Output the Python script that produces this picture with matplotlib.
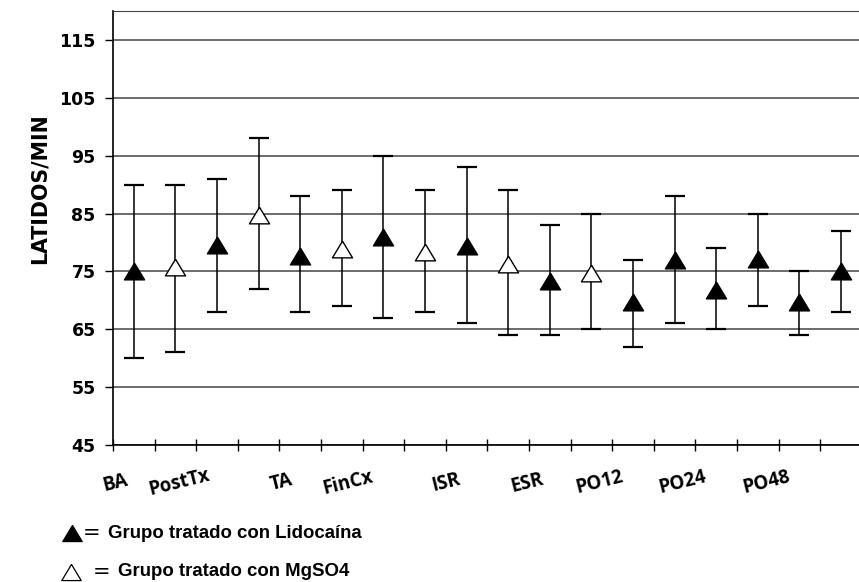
import matplotlib
matplotlib.use("Agg")
import matplotlib.pyplot as plt
from matplotlib.lines import Line2D
import numpy as np

# ---- data ----
group = ["L", "M", "L", "M", "L", "M", "L", "M", "L", "M", "L", "M",
         "L", "L", "L", "L", "L", "L"]
means = [75.0, 75.8, 79.6, 84.8, 77.7, 78.9, 80.9, 78.4, 79.4, 76.2, 73.4, 74.8,
         69.7, 77.0, 71.7, 77.2, 69.7, 75.0]
upper = [90, 90, 91, 98, 88, 89, 95, 89, 93, 89, 83, 85,
         77, 88, 79, 85, 75, 82]
lower = [60, 61, 68, 72, 68, 69, 67, 68, 66, 64, 64, 65,
         62, 66, 65, 69, 64, 68]
xlabels = ["BA", "PostTx", "TA", "FinCx", "ISR", "ESR", "PO12", "PO24", "PO48"]
xlabel_pos = [0.05, 1.6, 4.05, 5.65, 8.0, 9.95, 11.7, 13.7, 15.7]
yticks = [45, 55, 65, 75, 85, 95, 105, 115]
legend_labels = ["Grupo tratado con Lidocaína", "Grupo tratado con MgSO4"]

W, H = 859, 582
fig = plt.figure(figsize=(W / 100, H / 100), dpi=100)
ax = fig.add_axes([113 / W, 1 - 445 / H, (W - 113) / W, (445 - 11) / H])

x = np.arange(len(means)) + 0.5
means_a = np.array(means)
yerr = np.vstack([means_a - np.array(lower), np.array(upper) - means_a])

ax.errorbar(x, means_a, yerr=yerr, fmt="none", ecolor="black", elinewidth=1.1,
            capsize=7.5, capthick=1.6, zorder=3)

tri = [(0, 0.83), (-1, -0.83), (1, -0.83), (0, 0.83)]
for xi, m, g in zip(x, means_a, group):
    ax.plot([xi], [m], linestyle="none", marker=tri, markersize=14.5,
            markerfacecolor="black" if g == "L" else "white",
            markeredgecolor="black", markeredgewidth=1.0, zorder=4)

ax.set_ylim(45, 120)
ax.set_xlim(0, (W - 113) / 41.6)
ax.set_yticks(yticks)
ax.set_yticklabels([str(v) for v in yticks], fontsize=12.5, fontweight="bold",
                   family="DejaVu Sans")
ax.set_xticks(np.arange(0, 18))
ax.set_xticklabels([])
ax.yaxis.grid(True, color="#444444", linewidth=1.1)
ax.set_axisbelow(True)
ax.spines["top"].set_color("#444444")
ax.spines["right"].set_visible(False)
ax.spines["left"].set_linewidth(1.2)
ax.spines["bottom"].set_linewidth(1.2)
ax.tick_params(axis="x", direction="inout", length=9, width=1.0)
ax.tick_params(axis="y", direction="out", length=5.5, width=1.0, pad=7)

for lab, xp in zip(xlabels, xlabel_pos):
    ax.text(xp, -0.087, lab, transform=ax.get_xaxis_transform(), rotation=14,
            ha="center", va="center", fontsize=13.5, fontweight="bold",
            family="Open Sans")

fig.text(40 / W, 1 - 189 / H, "LATIDOS/MIN", rotation=90, ha="center",
         va="center", fontsize=14.8, fontweight="bold", family="DejaVu Sans")

# legend made of markers and text
rows = [(533, "black", 72, 92, 108), (572, "white", 71, 102, 118)]
for (yy, fc, mx, ex, tx), lab in zip(rows, legend_labels):
    fig.add_artist(Line2D([mx / W], [1 - yy / H], transform=fig.transFigure,
                          marker=tri, markersize=14, linestyle="none",
                          markerfacecolor=fc, markeredgecolor="black",
                          markeredgewidth=0.9))
    fig.text(ex / W, 1 - yy / H, "=", fontsize=15, family="DejaVu Sans",
             va="center", ha="center")
    fig.text(tx / W, 1 - yy / H, lab, fontsize=13.4, fontweight="bold",
             family="Liberation Sans", va="center", ha="left")

fig.savefig("out.png", dpi=100)
